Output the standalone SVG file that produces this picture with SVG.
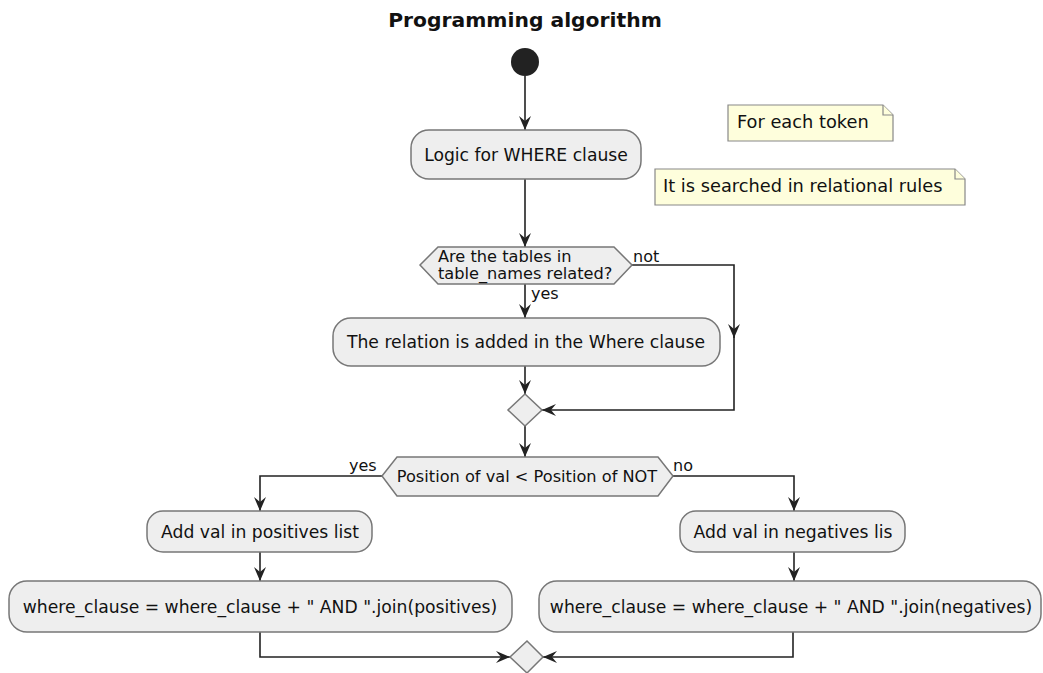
<svg xmlns="http://www.w3.org/2000/svg" width="1043" height="673" viewBox="0 0 1043 673">
<defs>
<style>
text{font-family:"DejaVu Sans","Liberation Sans",sans-serif;fill:#111}
.act{fill:#EEEEEE;stroke:#777;stroke-width:1.5}
.dec{fill:#EEEEEE;stroke:#777;stroke-width:1.5}
.note{fill:#FEFEDC;stroke:#888;stroke-width:1.2}
.t{font-size:17.2px}
.n{font-size:17.8px}
.s{font-size:16.2px}
.lbl{font-size:16px}
.c{fill:none;stroke:#222;stroke-width:1.6}
</style>
<marker id="ah" viewBox="0 0 14 12" refX="14" refY="6" markerWidth="14" markerHeight="12" markerUnits="userSpaceOnUse" orient="auto">
<path d="M0,0 L14,6 L0,12 L5,6 Z" fill="#222"/>
</marker>
</defs>
<rect width="1043" height="673" fill="#fff"/>
<text x="525" y="27" text-anchor="middle" style="font-size:20.3px;font-weight:bold">Programming algorithm</text>

<g id="connectors">
<path class="c" d="M525,76 L525,130" marker-end="url(#ah)"/>
<path class="c" d="M525,179 L525,247" marker-end="url(#ah)"/>
<path class="c" d="M525,284 L525,318" marker-end="url(#ah)"/>
<path class="c" d="M632,265 L734,265 L734,338" marker-end="url(#ah)"/>
<path class="c" d="M734,336 L734,410 L542,410" marker-end="url(#ah)"/>
<path class="c" d="M525,366 L525,394" marker-end="url(#ah)"/>
<path class="c" d="M525,426 L525,457" marker-end="url(#ah)"/>
<path class="c" d="M382,476 L260,476 L260,511" marker-end="url(#ah)"/>
<path class="c" d="M673,476 L794,476 L794,511" marker-end="url(#ah)"/>
<path class="c" d="M260,552 L260,581" marker-end="url(#ah)"/>
<path class="c" d="M794,552 L794,581" marker-end="url(#ah)"/>
<path class="c" d="M260,632 L260,657 L510,657" marker-end="url(#ah)"/>
<path class="c" d="M793,632 L793,657 L543,657" marker-end="url(#ah)"/>
<text class="lbl" x="633" y="262">not</text>
<text class="lbl" x="531" y="299">yes</text>
<text class="lbl" x="349" y="471">yes</text>
<text class="lbl" x="673" y="471">no</text>
</g>

<g id="start"><circle cx="525" cy="62" r="14" fill="#222"/></g>

<g id="logic_where">
<rect class="act" x="411" y="130" width="230" height="49" rx="18"/>
<text class="t" x="526" y="161" text-anchor="middle">Logic for WHERE clause</text>
</g>

<g id="note_token">
<path class="note" d="M728,105 L883,105 L893,115 L893,141 L728,141 Z"/>
<path class="note" d="M883,105 L883,115 L893,115" fill="none"/>
<text class="n" x="737" y="128">For each token</text>
</g>

<g id="note_rules">
<path class="note" d="M655,169 L955,169 L965,179 L965,205 L655,205 Z"/>
<path class="note" d="M955,169 L955,179 L965,179" fill="none"/>
<text class="n" x="663" y="192">It is searched in relational rules</text>
</g>

<g id="dec_related">
<polygon class="dec" points="420,265 438,247 614,247 632,265 614,284 438,284"/>
<text class="s" x="438" y="262">Are the tables in</text>
<text class="s" x="438" y="279">table_names related?</text>
</g>

<g id="relation_added">
<rect class="act" x="333" y="318" width="387" height="48" rx="18"/>
<text class="t" x="526" y="348" text-anchor="middle">The relation is added in the Where clause</text>
</g>

<g id="merge1">
<polygon class="dec" points="525,394 542,410 525,426 508,410"/>
</g>

<g id="dec_position">
<polygon class="dec" points="382,476 397,457 658,457 673,476 658,496 397,496"/>
<text class="s" x="527" y="482" text-anchor="middle">Position of val &lt; Position of NOT</text>
</g>

<g id="add_pos">
<rect class="act" x="147" y="511" width="225" height="41" rx="16"/>
<text class="t" x="260" y="538" text-anchor="middle">Add val in positives list</text>
</g>

<g id="add_neg">
<rect class="act" x="680" y="511" width="225" height="41" rx="16"/>
<text class="t" x="793" y="538" text-anchor="middle">Add val in negatives lis</text>
</g>

<g id="where_pos">
<rect class="act" x="9" y="581" width="503" height="51" rx="18"/>
<text class="t" x="260" y="613" text-anchor="middle">where_clause = where_clause + " AND ".join(positives)</text>
</g>

<g id="where_neg">
<rect class="act" x="539" y="581" width="502" height="51" rx="18"/>
<text class="t" x="791" y="613" text-anchor="middle">where_clause = where_clause + " AND ".join(negatives)</text>
</g>

<g id="merge2">
<polygon class="dec" points="527,641 543,657 527,673 510,657"/>
</g>
</svg>
